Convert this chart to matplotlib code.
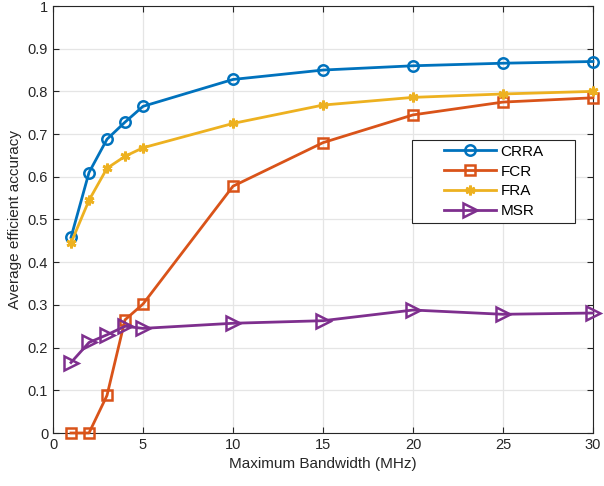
import matplotlib
matplotlib.use("Agg")
import matplotlib.pyplot as plt
from matplotlib.patches import Rectangle
import numpy as np

plt.rcParams["font.family"] = ["Liberation Sans", "DejaVu Sans"]

bandwidth = [1, 2, 3, 4, 5, 10, 15, 20, 25, 30]
crra = [0.458, 0.610, 0.688, 0.728, 0.765, 0.828, 0.850, 0.860, 0.866, 0.870]
fcr = [0.0, 0.0, 0.088, 0.265, 0.302, 0.578, 0.680, 0.745, 0.775, 0.785]
fra = [0.445, 0.545, 0.620, 0.648, 0.668, 0.725, 0.768, 0.786, 0.794, 0.800]
msr = [0.165, 0.212, 0.230, 0.250, 0.245, 0.257, 0.263, 0.288, 0.278, 0.281]

xticks = [0, 5, 10, 15, 20, 25, 30]
yticks = [0, 0.1, 0.2, 0.3, 0.4, 0.5, 0.6, 0.7, 0.8, 0.9, 1]
ytick_labels = ["0", "0.1", "0.2", "0.3", "0.4", "0.5", "0.6", "0.7", "0.8", "0.9", "1"]

fig = plt.figure(figsize=(6.04, 4.86), dpi=100)
ax = fig.add_axes([53 / 604, 53 / 486, 540 / 604, 427 / 486])

lw = 2.0
ax.plot(bandwidth, crra, color="#0072BD", lw=lw, marker="o", ms=7.5, mfc="none", mew=1.8,
        label="CRRA", clip_on=False, zorder=3)
ax.plot(bandwidth, fcr, color="#D95319", lw=lw, marker="s", ms=7.5, mfc="none", mew=1.8,
        label="FCR", clip_on=False, zorder=3)
ax.plot(bandwidth, fra, color="#EDB120", lw=lw, marker=(6, 2, 0), ms=7, mew=2,
        label="FRA", clip_on=False, zorder=3)
ax.plot(bandwidth, msr, color="#7E2F8E", lw=lw, marker=">", ms=10, mfc="none", mew=1.8,
        label="MSR", clip_on=False, zorder=3)

ax.set_xlim(0, 30)
ax.set_ylim(0, 1)
ax.set_xticks(xticks)
ax.set_yticks(yticks)
ax.set_yticklabels(ytick_labels)
ax.tick_params(direction="in", length=4, colors="#262626", labelsize=10.5, top=True, right=True)
for side in ax.spines.values():
    side.set_color("#262626")
    side.set_linewidth(0.8)
ax.grid(True, color="#e5e5e5", lw=0.9)
ax.set_axisbelow(True)

ax.set_xlabel("Maximum Bandwidth (MHz)", fontsize=11, color="#262626")
ax.set_ylabel("Average efficient accuracy", fontsize=11, color="#262626")

# MATLAB-style legend: wide box, entries centred inside it
box = Rectangle((0.665, 0.492), 0.302, 0.194, transform=ax.transAxes, facecolor="white",
                edgecolor="#262626", lw=0.8, zorder=4.5)
ax.add_patch(box)
leg = ax.legend(loc="center", bbox_to_anchor=(0.665 + 0.151, 0.492 + 0.097), frameon=False,
                fontsize=11, handlelength=3.4, borderpad=0.0, labelspacing=0.38,
                handletextpad=0.3)
leg.set_zorder(5)

fig.savefig("out.png", dpi=100)
